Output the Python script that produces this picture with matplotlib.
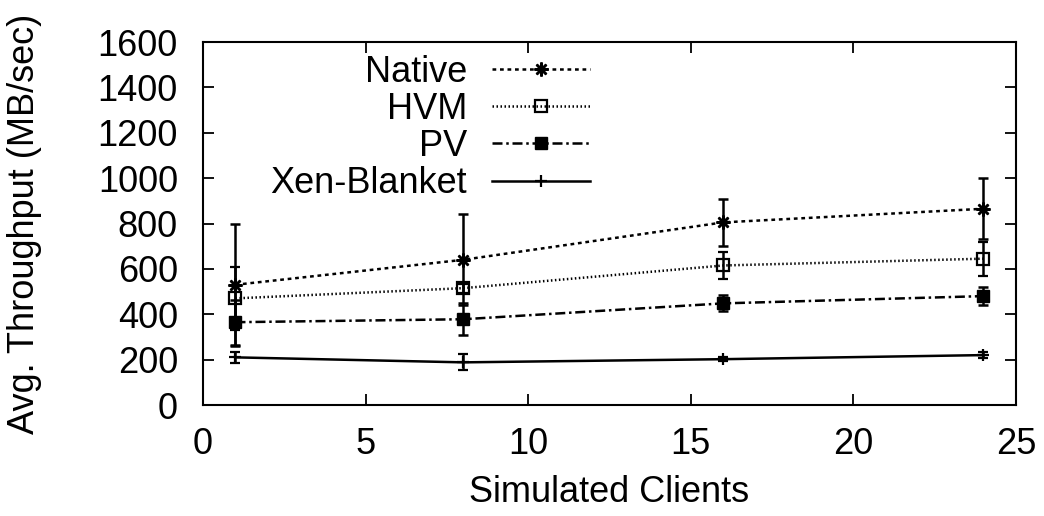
import matplotlib
matplotlib.use("Agg")
import matplotlib.pyplot as plt

clients = [1, 8, 16, 24]

native = [530, 640, 805, 865]
native_err = [270, 200, 105, 135]

hvm = [470, 515, 615, 645]
hvm_err = [140, 20, 60, 75]

pv = [365, 378, 448, 480]
pv_err = [100, 70, 35, 40]

xen = [210, 188, 202, 220]
xen_err = [25, 35, 8, 15]

plt.rcParams['font.family'] = ['Liberation Sans', 'DejaVu Sans']
plt.rcParams['font.size'] = 26

fig = plt.figure(figsize=(10.44, 5.16), dpi=100)
ax = fig.add_axes([0.1944, 0.2151, 0.7788, 0.7035])

lw = 1.8
common = dict(color='black', lw=lw, capsize=3.5, elinewidth=lw, capthick=lw)

ax.errorbar(clients, native, yerr=native_err, marker=(8, 2, 0), ms=10, mew=1.8,
            ls=(0, (1.5, 1.5)), label='Native', **common)
ax.errorbar(clients, hvm, yerr=hvm_err, marker='s', ms=9, mew=1.6,
            fillstyle='none', ls=(0, (0.6, 1.0)), label='HVM', **common)
ax.errorbar(clients, pv, yerr=pv_err, marker='s', ms=9,
            ls=(0, (4, 1.5, 1, 1.5)), label='PV', **common)
ax.errorbar(clients, xen, yerr=xen_err, marker='+', ms=8, mew=1.6,
            ls='-', label='Xen-Blanket', **common)

ax.set_xlim(0, 25)
ax.set_ylim(0, 1600)
ax.set_xticks(range(0, 26, 5))
ax.set_yticks(range(0, 1601, 200))
ax.tick_params(axis='both', direction='in', length=8, width=1.3, top=True, right=True)
ax.tick_params(axis='x', pad=16)
ax.tick_params(axis='y', pad=18)
for s in ax.spines.values():
    s.set_linewidth(1.5)

ax.set_xlabel('Simulated Clients', labelpad=9)
ax.set_ylabel('Avg. Throughput (MB/sec)', labelpad=40)

handles, labels = ax.get_legend_handles_labels()
handles = [h[0] for h in handles]
ax.legend(handles, labels, loc='upper right', bbox_to_anchor=(0.476, 0.965),
          frameon=False, markerfirst=False, handlelength=2.7,
          labelspacing=0.06, handletextpad=0.7, borderaxespad=0, borderpad=0)

fig.savefig('out.png', dpi=100)
